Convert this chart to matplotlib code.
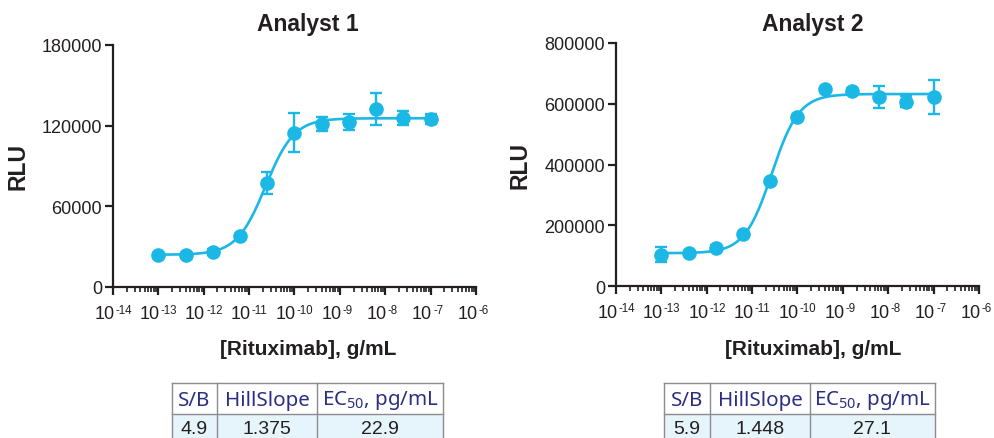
import numpy as np
import matplotlib
matplotlib.use("Agg")
import matplotlib.pyplot as plt
from matplotlib.ticker import LogLocator, NullFormatter, FixedLocator
from matplotlib.patches import Rectangle

plt.rcParams['font.family'] = ['Liberation Sans', 'DejaVu Sans']
plt.rcParams['mathtext.fontset'] = 'custom'
plt.rcParams['mathtext.rm'] = 'Noto Sans'

# ---------------- data ----------------
log_conc = [-13.0, -12.4, -11.8, -11.2, -10.6, -10.0, -9.4, -8.8, -8.2, -7.6, -7.0]

rlu_a1 = [24000, 23700, 26400, 37600, 77200, 114600, 121300, 122600, 132400, 125500, 125000]
err_a1 = [1000, 1000, 1500, 1500, 8300, 14500, 5300, 6000, 11800, 5100, 3500]

rlu_a2 = [103000, 107000, 126700, 170600, 345500, 555800, 649200, 643600, 621800, 607300, 621800]
err_a2 = [24000, 8000, 8000, 8000, 8000, 8000, 6000, 8000, 35000, 17000, 56000]

# fitted 4PL parameters (bottom, top, EC50 g/mL, hill)
fit_a1 = dict(bottom=24000, top=125500, ec50=22.9e-12, hill=1.375)
fit_a2 = dict(bottom=108000, top=632000, ec50=27.1e-12, hill=1.448)

titles = ["Analyst 1", "Analyst 2"]
x_exponents = [-14, -13, -12, -11, -10, -9, -8, -7, -6]
y_ticks_a1 = [0, 60000, 120000, 180000]
y_ticks_a2 = [0, 200000, 400000, 600000, 800000]

table_header = ["S/B", "HillSlope", r"EC$_\mathregular{50}$, pg/mL"]
table_a1 = ["4.9", "1.375", "22.9"]
table_a2 = ["5.9", "1.448", "27.1"]

# ---------------- style ----------------
CYAN = '#1bb8e6'
DARK = '#231f20'
NAVY = '#2b2e83'
W, H = 995, 439
PT = 0.72  # points per pixel at 100 dpi

fig = plt.figure(figsize=(W / 100, H / 100), dpi=100)

def px_rect(x0, y0, x1, y1):
    return [x0 / W, 1 - y1 / H, (x1 - x0) / W, (y1 - y0) / H]

def fourpl(x, p):
    return p['bottom'] + (p['top'] - p['bottom']) / (1 + (p['ec50'] / x) ** p['hill'])

def draw_panel(rect, rlu, err, fit, yticks, title, cx):
    ax = fig.add_axes(px_rect(*rect))
    conc = 10 ** np.array(log_conc)
    xs = np.logspace(log_conc[0], log_conc[-1], 400)
    ax.plot(xs, fourpl(xs, fit), color=CYAN, lw=1.9, zorder=2)
    ax.errorbar(conc, rlu, yerr=err, fmt='o', color=CYAN, ms=9.5, elinewidth=1.7,
                capsize=4.5, capthick=1.7, zorder=3)
    ax.set_xscale('log')
    ax.set_xlim(10.0 ** x_exponents[0], 10.0 ** x_exponents[-1])
    ax.set_ylim(0, yticks[-1])
    ax.set_yticks(yticks)
    ax.set_yticklabels([str(v) for v in yticks])
    ax.xaxis.set_major_locator(FixedLocator([10.0 ** k for k in x_exponents]))
    ax.xaxis.set_major_formatter(NullFormatter())
    ax.xaxis.set_minor_locator(LogLocator(base=10, subs=np.arange(2, 10), numticks=100))
    ax.xaxis.set_minor_formatter(NullFormatter())
    for s in ['top', 'right']:
        ax.spines[s].set_visible(False)
    for s in ['left', 'bottom']:
        ax.spines[s].set_linewidth(1.6)
        ax.spines[s].set_color(DARK)
    ax.tick_params(axis='both', which='major', length=6, width=1.6, color=DARK,
                   labelsize=13, labelcolor=DARK)
    ax.tick_params(axis='y', which='major', pad=2)
    ax.tick_params(axis='x', which='minor', length=3.5, width=1.2, color=DARK)
    # x tick labels "10" with small raised exponent
    for k in x_exponents:
        ax.annotate("10", xy=(10.0 ** k, 0), xycoords=('data', 'axes fraction'),
                    xytext=(1.5 * PT, -26.5 * PT), textcoords='offset points',
                    ha='right', va='center', fontsize=13, color=DARK,
                    annotation_clip=False)
        ax.annotate("-%d" % abs(k), xy=(10.0 ** k, 0), xycoords=('data', 'axes fraction'),
                    xytext=(2.5 * PT, -22.5 * PT), textcoords='offset points',
                    ha='left', va='center', fontsize=8.3, color=DARK,
                    annotation_clip=False)
    ax.set_ylabel("RLU", fontsize=16.5, fontweight='bold', color=DARK)
    ax.yaxis.set_label_coords(-84 / (rect[2] - rect[0]), 0.5)
    fig.text(cx / W, 1 - 25 / H, title, ha='center', va='center', fontsize=16.5,
             fontweight='bold', color=DARK)
    fig.text(cx / W, 1 - 350 / H, "[Rituximab], g/mL", ha='center', va='center',
             fontsize=15, fontweight='bold', color=DARK)
    return ax

draw_panel((113, 46, 476, 288), rlu_a1, err_a1, fit_a1, y_ticks_a1, titles[0], 308)
draw_panel((616, 44, 979, 287), rlu_a2, err_a2, fit_a2, y_ticks_a2, titles[1], 813)

# ---------------- tables ----------------
tax = fig.add_axes([0, 0, 1, 1])
tax.set_xlim(0, W)
tax.set_ylim(H, 0)
tax.axis('off')

def draw_table(cols, values):
    y0, y1, y2 = 384, 415.5, 450
    border = '#8c8c8c'
    tax.add_patch(Rectangle((cols[0], y1), cols[-1] - cols[0], y2 - y1,
                            facecolor='#e6f4fb', edgecolor='none'))
    for yy in (y0, y1):
        tax.plot([cols[0], cols[-1]], [yy, yy], color=border, lw=1.0)
    for xx in cols:
        tax.plot([xx, xx], [y0, y2], color=border, lw=1.0)
    for i in range(3):
        xc = (cols[i] + cols[i + 1]) / 2
        tax.text(xc, (y0 + y1) / 2 + 1, table_header[i], ha='center', va='center',
                 fontsize=14.8, color=NAVY, family='Noto Sans')
        tax.text(xc, 430, values[i], ha='center', va='center', fontsize=14, color=DARK)

draw_table([171.7, 217.3, 317.3, 443], table_a1)
draw_table([664.3, 710, 810, 935], table_a2)

fig.savefig("out.png", dpi=100)
